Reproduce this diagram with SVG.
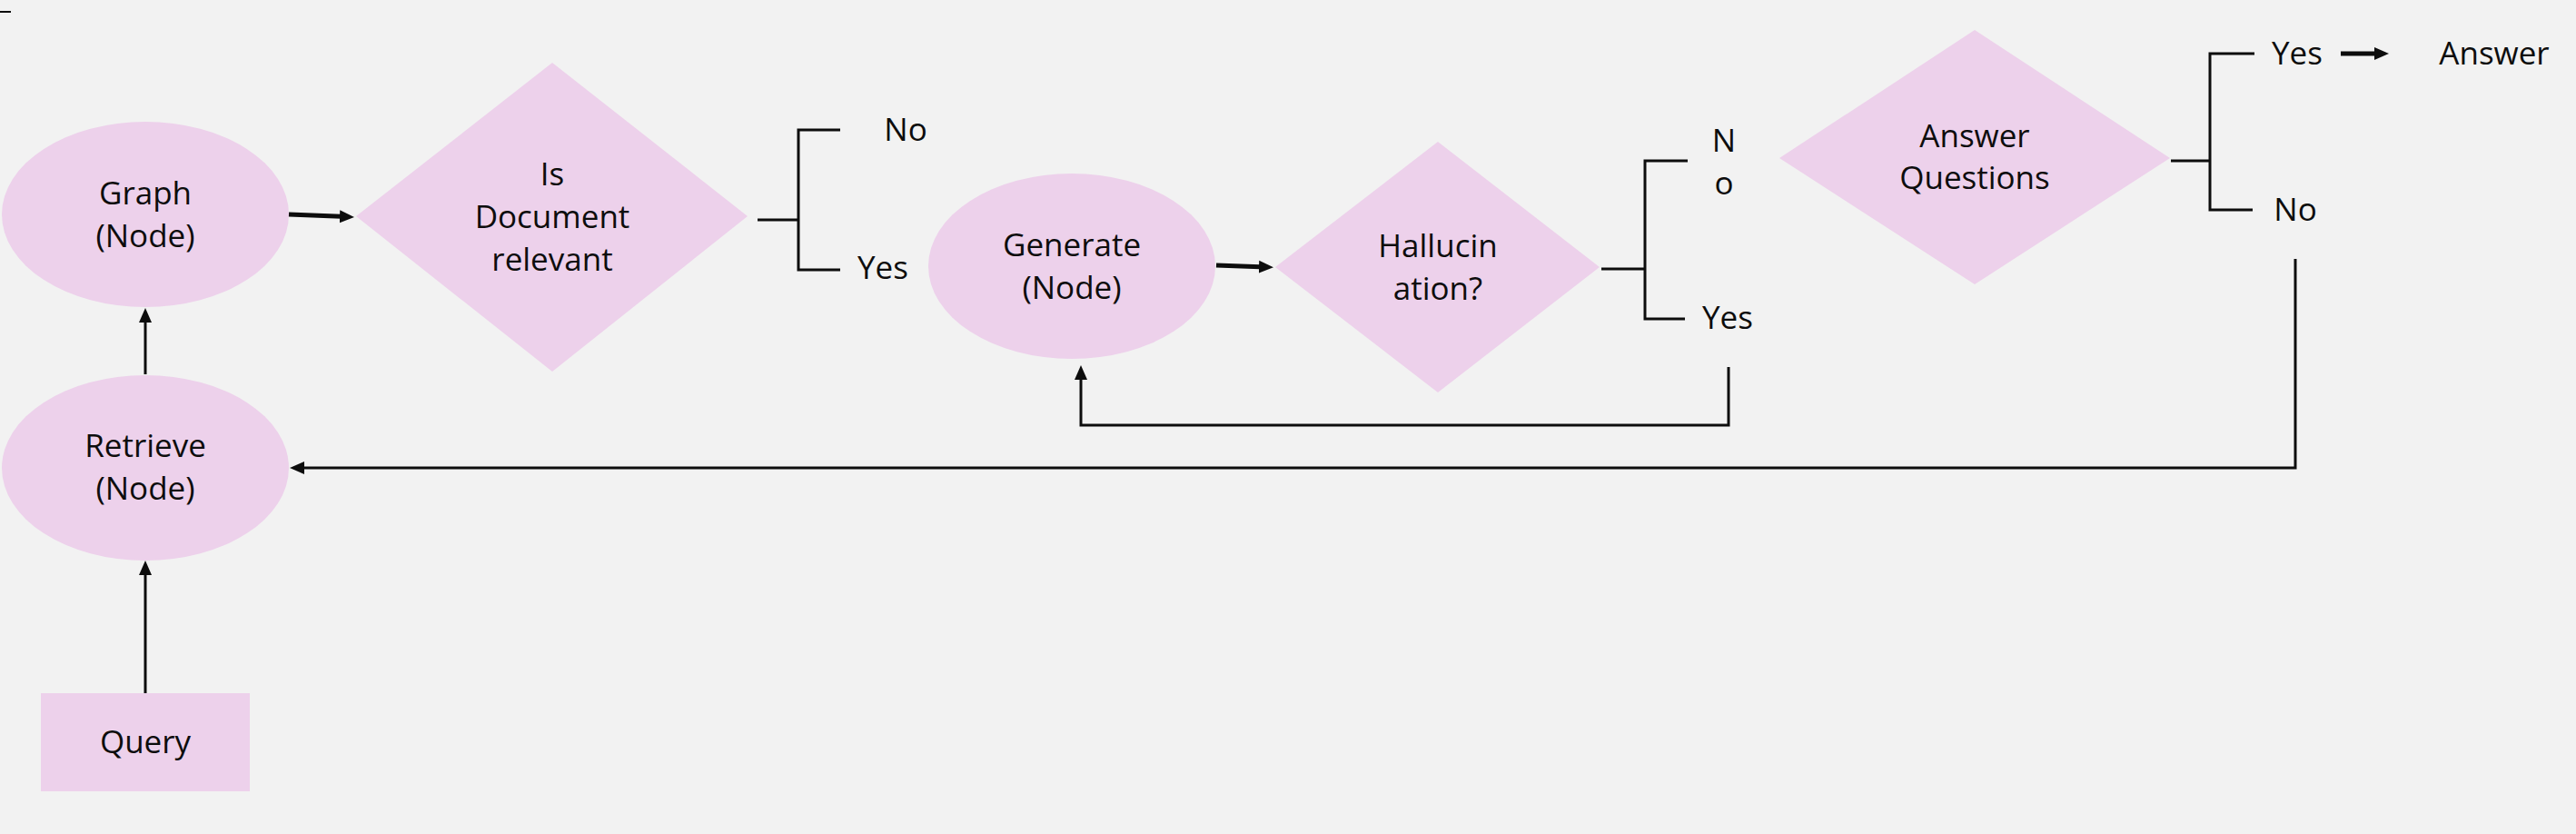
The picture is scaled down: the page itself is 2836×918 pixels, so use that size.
<svg xmlns="http://www.w3.org/2000/svg" width="2836" height="918" viewBox="0 0 2836 918">
<style>
.bg{fill:#F2F2F2}
.shape{fill:#EDD1EB;stroke:none}
.t{font-family:"Open Sans","Liberation Sans",sans-serif;font-size:35px;fill:#0d0d0d;text-anchor:middle}
.c{fill:none;stroke:#0d0d0d;stroke-width:3;stroke-linejoin:miter}
.thick{stroke-width:5}
.br{fill:none;stroke:#0d0d0d;stroke-width:3}
</style>
<defs>
<marker id="ah" markerUnits="userSpaceOnUse" markerWidth="16" markerHeight="16" viewBox="0 0 16 16" refX="8" refY="8" orient="auto">
<path d="M0,1 L16,8 L0,15 Z" fill="#0d0d0d"/>
</marker>
</defs>
<rect class="bg" x="0" y="0" width="2836" height="918"/>
<path d="M0,13 H12" stroke="#0d0d0d" stroke-width="2" fill="none"/>

<g id="graph">
<ellipse class="shape" cx="160" cy="236" rx="158" ry="102"/>
<text class="t" x="160" y="225">Graph</text>
<text class="t" x="160" y="272">(Node)</text>
</g>
<g id="retrieve">
<ellipse class="shape" cx="160" cy="515" rx="158" ry="102"/>
<text class="t" x="160" y="503">Retrieve</text>
<text class="t" x="160" y="550">(Node)</text>
</g>
<g id="query">
<rect class="shape" x="45" y="763" width="230" height="108"/>
<text class="t" x="160" y="829">Query</text>
</g>
<g id="doc-relevant">
<polygon class="shape" points="608,69 823,238 608,409 392,238"/>
<text class="t" x="608" y="204">Is</text>
<text class="t" x="608" y="251">Document</text>
<text class="t" x="608" y="298">relevant</text>
</g>
<g id="doc-no"><text class="t" x="997" y="155">No</text></g>
<g id="doc-yes"><text class="t" x="972" y="307">Yes</text></g>
<g id="generate">
<ellipse class="shape" cx="1180" cy="293" rx="158" ry="102"/>
<text class="t" x="1180" y="282">Generate</text>
<text class="t" x="1180" y="329">(Node)</text>
</g>
<g id="hallucination">
<polygon class="shape" points="1583,156 1761,294 1583,432 1404,294"/>
<text class="t" x="1583" y="283">Hallucin</text>
<text class="t" x="1583" y="330">ation?</text>
</g>
<g id="hall-no">
<text class="t" x="1898" y="167">N</text>
<text class="t" x="1898" y="214">o</text>
</g>
<g id="hall-yes"><text class="t" x="1902" y="362">Yes</text></g>
<g id="answer-questions">
<polygon class="shape" points="2174,33 2389,174 2174,313 1959,174"/>
<text class="t" x="2174" y="162">Answer</text>
<text class="t" x="2174" y="208">Questions</text>
</g>
<g id="aq-yes"><text class="t" x="2529" y="71">Yes</text></g>
<g id="aq-no"><text class="t" x="2527" y="243">No</text></g>
<g id="answer"><text class="t" x="2746" y="71">Answer</text></g>

<g id="connectors">
<path class="c" d="M160,763 V625" marker-end="url(#ah)"/>
<path class="c" d="M160,412 V347" marker-end="url(#ah)"/>
<path class="c thick" d="M318,236 L382,238.6" marker-end="url(#ah)"/>
<path class="c thick" d="M1339,292 L1394,294" marker-end="url(#ah)"/>
<path class="c thick" d="M2577,59 H2622" marker-end="url(#ah)"/>
<path class="c" d="M1903,404 V468 H1190 V410" marker-end="url(#ah)"/>
<path class="c" d="M2527,285 V515 H327" marker-end="url(#ah)"/>
<path class="br" d="M834,242 H879 M925,143 H879 V297 H925"/>
<path class="br" d="M1763,296 H1811 M1858,177 H1811 V351 H1855"/>
<path class="br" d="M2390,177 H2433 M2482,59 H2433 V231 H2480"/>
</g>
</svg>
